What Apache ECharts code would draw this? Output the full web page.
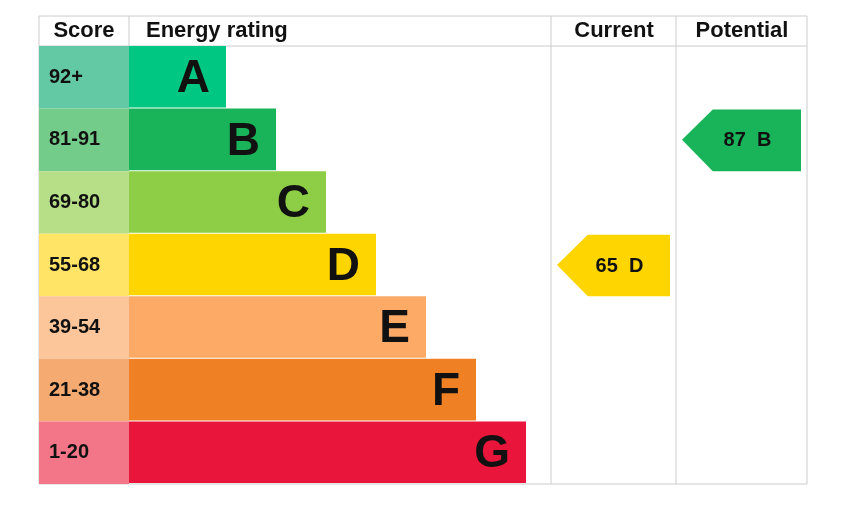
<!DOCTYPE html><html><head><meta charset="utf-8"><script src="https://cdn.jsdelivr.net/npm/echarts@6/dist/echarts.min.js"></script>
<style>body{margin:0}#c{width:867px;height:521px}</style></head><body><div id="c"></div><script>
var ratings=['A','B','C','D','E','F','G'];
var scoreLabels=['92+','81-91','69-80','55-68','39-54','21-38','1-20'];
var barLengths=[97,147,197,247,297,347,397];
var barColors=['#00c781','#19b459','#8dce46','#ffd500','#fcaa65','#ef8023','#e9153b'];
var scoreColors=['#63c9a4','#74cc8a','#b7df88','#ffe466','#fdc69a','#f4aa70','#f27588'];
var current={score:65,rating:'D'};
var potential={score:87,rating:'B'};
var headers=['Score','Energy rating','Current','Potential'];
// column boundaries in x-axis units (0 = left of table)
var cols=[0,90,512,637,768];
var chart=echarts.init(document.getElementById('c'));
var F='Liberation Sans, Arial, sans-serif';
function idx(r){return ratings.indexOf(r);}
chart.setOption({
 animation:false,
 grid:{left:39,right:60,top:46,bottom:37},
 xAxis:{type:'value',min:0,max:768,show:false},
 yAxis:{type:'category',data:ratings,inverse:true,show:false},
 graphic:[
  {type:'rect',shape:{x:39,y:16,width:768,height:468},style:{fill:'none',stroke:'#cccccc',lineWidth:1}},
  {type:'line',shape:{x1:39,y1:46,x2:807,y2:46},style:{stroke:'#cccccc'}},
  {type:'line',shape:{x1:129,y1:16,x2:129,y2:46},style:{stroke:'#cccccc'}},
  {type:'line',shape:{x1:551,y1:16,x2:551,y2:484},style:{stroke:'#cccccc'}},
  {type:'line',shape:{x1:676,y1:16,x2:676,y2:484},style:{stroke:'#cccccc'}},
  {type:'text',style:{x:84,y:31,text:headers[0],font:'bold 22px '+F,fill:'#111',align:'center',verticalAlign:'middle'}},
  {type:'text',style:{x:146,y:31,text:headers[1],font:'bold 22px '+F,fill:'#111',align:'left',verticalAlign:'middle'}},
  {type:'text',style:{x:614,y:31,text:headers[2],font:'bold 22px '+F,fill:'#111',align:'center',verticalAlign:'middle'}},
  {type:'text',style:{x:742,y:31,text:headers[3],font:'bold 22px '+F,fill:'#111',align:'center',verticalAlign:'middle'}}
 ],
 series:[
  {type:'custom',data:ratings.map(function(r,i){return [i];}),
   renderItem:function(p,api){
    var i=api.value(0);
    var s=api.size([0,1])[1];
    var y0=api.coord([0,i])[1]-s/2;
    var x0=api.coord([0,i])[0],x1=api.coord([cols[1],i])[0],x2=api.coord([cols[1]+barLengths[i],i])[0];
    return {type:'group',children:[
     {type:'rect',shape:{x:x0,y:y0,width:x1-x0,height:s},style:{fill:scoreColors[i]}},
     {type:'rect',shape:{x:x1,y:y0,width:x2-x1,height:s-1},style:{fill:barColors[i]}},
     {type:'text',style:{x:x0+10,y:y0+s/2,text:scoreLabels[i],font:'bold 20px '+F,fill:'#111',verticalAlign:'middle'}},
     {type:'text',style:{x:x2-16,y:y0+s/2+2,text:ratings[i],font:'bold 46px '+F,fill:'#111',align:'right',verticalAlign:'middle'}}
    ]};
   }},
  {type:'custom',data:[[current.score,idx(current.rating),2],[potential.score,idx(potential.rating),3]],
   renderItem:function(p,api){
    var d=p.dataIndex===0?current:potential;
    var i=api.value(1),c=api.value(2);
    var s=api.size([0,1])[1];
    var yc=api.coord([0,i])[1];
    var xl=api.coord([cols[c]+6,i])[0],xr=api.coord([cols[c+1]-6,i])[0];
    var h=s-1,t=yc-s/2+1;
    return {type:'group',children:[
     {type:'polygon',shape:{points:[[xl,yc],[xl+h/2,t],[xr,t],[xr,t+h],[xl+h/2,t+h]]},style:{fill:barColors[i]}},
     {type:'text',style:{x:(xl+xr)/2+6,y:yc+1,text:d.score+'  '+d.rating,font:'bold 20px '+F,fill:'#111',align:'center',verticalAlign:'middle'}}
    ]};
   }}
 ]
});
</script></body></html>
